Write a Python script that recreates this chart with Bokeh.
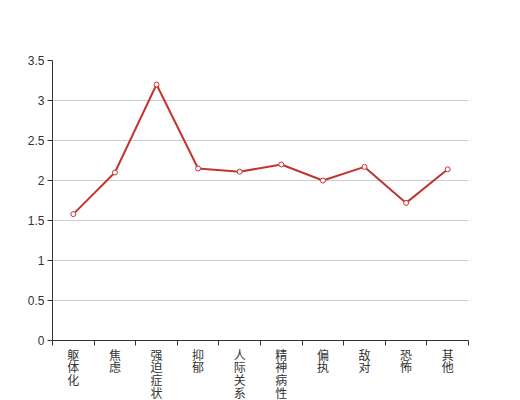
from bokeh.plotting import figure
from bokeh.layouts import column
from bokeh.models import Range1d, FixedTicker
from bokeh.core.properties import value
from bokeh.embed import file_html
from bokeh.resources import INLINE

categories = ["躯体化", "焦虑", "强迫症状", "抑郁", "人际关系敏感", "精神病性", "偏执", "敌对", "恐怖", "其他"]
values = [1.58, 2.10, 3.20, 2.15, 2.11, 2.20, 2.00, 2.17, 1.72, 2.14]
y_ticks = [0, 0.5, 1, 1.5, 2, 2.5, 3, 3.5]
y_tick_labels = ["0", "0.5", "1", "1.5", "2", "2.5", "3", "3.5"]

n = len(categories)
xs = [i + 0.5 for i in range(n)]

W = 520
TOP, FRAME_H, GAP, LABEL_H = 60, 280, 8, 52
SIDE = 52

x_range = Range1d(0, n)
p = figure(width=W, height=TOP + FRAME_H + GAP, x_range=x_range, y_range=Range1d(0, 3.5),
           output_backend="svg", toolbar_location=None,
           min_border_left=SIDE, min_border_right=SIDE, min_border_top=TOP, min_border_bottom=GAP)
p.outline_line_color = None
p.background_fill_color = "white"
p.border_fill_color = "white"

# x axis: ticks at category boundaries, labels drawn in the strip below
p.xaxis.ticker = FixedTicker(ticks=list(range(n + 1)))
p.xaxis.major_label_overrides = {i: "" for i in range(n + 1)}
p.xaxis.major_label_text_font_size = "0px"
p.xaxis.major_label_standoff = 0
p.xaxis.axis_line_color = "#333333"
p.xaxis.major_tick_line_color = "#333333"
p.xaxis.major_tick_out = 5
p.xaxis.major_tick_in = 0
p.xaxis.minor_tick_line_color = None
p.xgrid.grid_line_color = None

# y axis
p.yaxis.ticker = FixedTicker(ticks=y_ticks)
p.yaxis.major_label_overrides = dict(zip(y_ticks, y_tick_labels))
p.yaxis.axis_line_color = "#333333"
p.yaxis.major_tick_line_color = "#333333"
p.yaxis.major_tick_out = 5
p.yaxis.major_tick_in = 0
p.yaxis.minor_tick_line_color = None
p.yaxis.major_label_standoff = 3
p.yaxis.major_label_text_font = "Liberation Sans"
p.yaxis.major_label_text_font_size = "12px"
p.yaxis.major_label_text_color = "#333333"
p.ygrid.ticker = FixedTicker(ticks=y_ticks)
p.ygrid.grid_line_color = "#cccccc"

p.line(xs, values, line_color="#c23531", line_width=2)
p.scatter(xs, values, size=5, fill_color="white", line_color="#c23531", line_width=1)

# strip holding the vertically written category labels, sharing the x scale
p2 = figure(width=W, height=LABEL_H, x_range=x_range, y_range=Range1d(-LABEL_H, 0),
            output_backend="svg", toolbar_location=None,
            x_axis_location=None, y_axis_location=None,
            min_border_left=SIDE, min_border_right=SIDE, min_border_top=0, min_border_bottom=0)
p2.outline_line_color = None
p2.grid.visible = False
p2.background_fill_color = "white"
p2.border_fill_color = "white"
p2.text(x=xs, y=0, y_offset=-3, text=["\n".join(c) for c in categories],
        text_align="center", text_baseline="top",
        text_font=value("Noto Sans CJK SC"), text_font_size="12px",
        text_color="#333333", text_line_height=0.75)

layout = column(p, p2, spacing=0)
open("out.html", "w").write(file_html(layout, INLINE))
